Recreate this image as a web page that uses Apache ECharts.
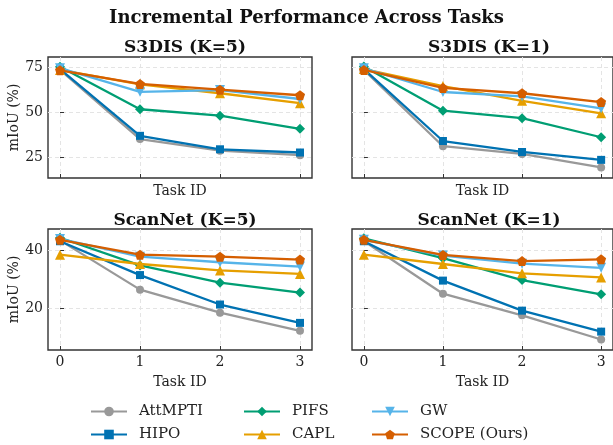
<!DOCTYPE html>
<html>
<head>
<meta charset="utf-8">
<script src="https://cdn.jsdelivr.net/npm/echarts@6/dist/echarts.min.js"></script>
<style>
html,body{margin:0;padding:0;background:#fff;}
#c{width:613px;height:445px;}
</style>
</head>
<body>
<div id="c"></div>
<script>
// ---- data ----
const taskIds = [0, 1, 2, 3];
const methods = ['AttMPTI', 'HIPO', 'PIFS', 'CAPL', 'GW', 'SCOPE (Ours)'];
const panelTitles = ['S3DIS (K=5)', 'S3DIS (K=1)', 'ScanNet (K=5)', 'ScanNet (K=1)'];
const s3disTicks = [25, 50, 75];
const scannetTicks = [20, 40];

// S3DIS K=5
const s3k5_AttMPTI = [73.5, 35.0, 28.5, 26.0];
const s3k5_HIPO    = [74.0, 36.8, 29.3, 27.5];
const s3k5_PIFS    = [75.3, 51.6, 48.0, 40.7];
const s3k5_CAPL    = [73.5, 65.5, 60.5, 55.0];
const s3k5_GW      = [74.5, 61.3, 62.3, 57.3];
const s3k5_SCOPE   = [73.3, 65.7, 62.5, 59.4];
// S3DIS K=1
const s3k1_AttMPTI = [73.5, 31.0, 26.7, 19.2];
const s3k1_HIPO    = [74.0, 33.9, 27.8, 23.4];
const s3k1_PIFS    = [75.4, 50.8, 46.6, 36.0];
const s3k1_CAPL    = [74.0, 64.5, 56.3, 49.3];
const s3k1_GW      = [74.4, 61.2, 58.8, 52.1];
const s3k1_SCOPE   = [73.5, 63.5, 60.5, 55.6];
// ScanNet K=5
const snk5_AttMPTI = [43.3, 26.4, 18.5, 12.3];
const snk5_HIPO    = [43.0, 31.4, 21.3, 15.0];
const snk5_PIFS    = [44.2, 34.7, 28.8, 25.4];
const snk5_CAPL    = [38.4, 35.2, 33.0, 31.8];
const snk5_GW      = [43.8, 37.7, 35.8, 34.3];
const snk5_SCOPE   = [43.5, 38.4, 37.7, 36.7];
// ScanNet K=1
const snk1_AttMPTI = [43.1, 25.0, 17.6, 9.3];
const snk1_HIPO    = [43.0, 29.5, 19.2, 12.0];
const snk1_PIFS    = [44.0, 37.2, 29.7, 24.8];
const snk1_CAPL    = [38.4, 35.2, 32.0, 30.6];
const snk1_GW      = [43.5, 38.1, 35.3, 33.9];
const snk1_SCOPE   = [43.5, 38.3, 36.2, 36.8];

const panels = [
  [s3k5_AttMPTI, s3k5_HIPO, s3k5_PIFS, s3k5_CAPL, s3k5_GW, s3k5_SCOPE],
  [s3k1_AttMPTI, s3k1_HIPO, s3k1_PIFS, s3k1_CAPL, s3k1_GW, s3k1_SCOPE],
  [snk5_AttMPTI, snk5_HIPO, snk5_PIFS, snk5_CAPL, snk5_GW, snk5_SCOPE],
  [snk1_AttMPTI, snk1_HIPO, snk1_PIFS, snk1_CAPL, snk1_GW, snk1_SCOPE]
];

// ---- style ----
const FONT = 'DejaVu Serif';
const colors = ['#999999', '#0072B2', '#009E73', '#E69F00', '#56B4E9', '#D55E00'];
const pentagon = 'path://M50 0L97.6 34.5L79.4 90.5L20.6 90.5L2.4 34.5Z';
const symbols = ['circle', 'rect', 'diamond', 'triangle', 'triangle', pentagon];
const symRot = [0, 0, 0, 0, 180, 0];
const symSize = [8, 8, 10, 10, 10, 10];

const grids = [
  {left: 48, top: 57, width: 264, height: 121},
  {left: 352, top: 57, width: 264, height: 121},
  {left: 48, top: 229, width: 264, height: 121},
  {left: 352, top: 229, width: 264, height: 121}
];
const yRanges = [[13.3, 80.7], [13.3, 80.7], [5.7, 47.2], [5.7, 47.2]];
const yTicks = [s3disTicks, s3disTicks, scannetTicks, scannetTicks];

const grid = grids.map(g => Object.assign({show: true, borderColor: '#333', borderWidth: 1.4, backgroundColor: 'transparent'}, g));

const gridLine = {show: true, lineStyle: {color: '#e4e4e4', type: [4, 3], width: 1}};
const textBase = {fontFamily: FONT, color: '#222', fontSize: 14};

const xAxis = grids.map((g, i) => ({
  type: 'value', gridIndex: i, min: -0.15, max: 3.15,
  name: 'Task ID', nameLocation: 'middle', nameGap: i < 2 ? 6 : 25,
  nameTextStyle: Object.assign({}, textBase),
  axisLine: {show: false},
  axisTick: {show: true, inside: true, length: 4, lineStyle: {color: '#333', width: 1}, customValues: taskIds},
  axisLabel: {show: i >= 2, customValues: taskIds, margin: 5, fontFamily: FONT, color: '#222', fontSize: 14},
  splitLine: gridLine
}));

const yAxis = grids.map((g, i) => ({
  type: 'value', gridIndex: i, min: yRanges[i][0], max: yRanges[i][1],
  name: i % 2 === 0 ? 'mIoU (%)' : '', nameLocation: 'middle', nameGap: 21, nameRotate: 90,
  nameTextStyle: Object.assign({}, textBase),
  axisLine: {show: false},
  axisTick: {show: true, inside: true, length: 4, lineStyle: {color: '#333', width: 1}, customValues: yTicks[i]},
  axisLabel: {show: i % 2 === 0, customValues: yTicks[i], margin: 5, fontFamily: FONT, color: '#222', fontSize: 14},
  splitLine: gridLine
}));

const series = [];
panels.forEach((p, pi) => {
  p.forEach((vals, mi) => {
    series.push({
      name: methods[mi], type: 'line', xAxisIndex: pi, yAxisIndex: pi,
      data: taskIds.map((t, k) => [t, vals[k]]),
      symbol: symbols[mi], symbolRotate: symRot[mi], symbolSize: symSize[mi],
      showAllSymbol: true,
      lineStyle: {color: colors[mi], width: 2.3},
      itemStyle: {color: colors[mi], borderWidth: 0},
      emphasis: {disabled: true},
      z: 2 + mi, animation: false
    });
  });
});

const title = [
  {text: 'Incremental Performance Across Tasks', left: 'center', top: 4,
   textStyle: {fontFamily: FONT, fontWeight: 'bold', fontSize: 18, color: '#111'}}
].concat(panelTitles.map((t, i) => ({
  text: t, left: grids[i].left + 132, top: i < 2 ? 34 : 207, textAlign: 'center',
  textStyle: {fontFamily: FONT, fontWeight: 'bold', fontSize: 17, color: '#111'}
})));

const legendCols = [[methods[0], methods[1]], [methods[2], methods[3]], [methods[4], methods[5]]];
const legendLeft = [90, 243, 371];
const legend = legendCols.map((d, i) => ({
  data: d, orient: 'vertical', left: legendLeft[i], top: 403, itemGap: 6, padding: 0,
  itemWidth: 36, itemHeight: 12, selectedMode: false,
  textStyle: {fontFamily: FONT, fontSize: 15, lineHeight: 17, color: '#222', padding: [0, 0, 0, 7]}
}));

const chart = echarts.init(document.getElementById('c'), null, {renderer: 'canvas'});
chart.setOption({
  animation: false, backgroundColor: '#fff',
  title, legend, grid, xAxis, yAxis, series
});
</script>
</body>
</html>
